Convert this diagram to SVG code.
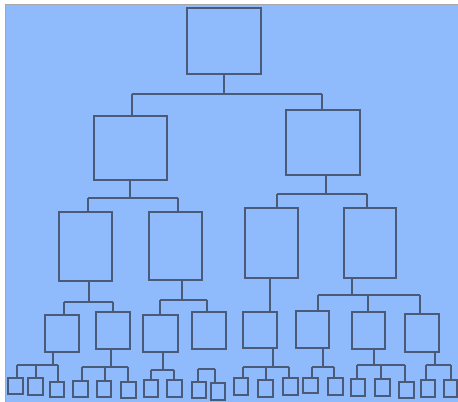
<svg xmlns="http://www.w3.org/2000/svg" width="458" height="402" viewBox="0 0 458 402">
<style>
.n{fill:none;stroke:#4a5a78;stroke-width:2}
.c{fill:none;stroke:#4a5a78;stroke-width:2}
</style>
<rect x="0" y="0" width="458" height="402" fill="#ffffff"/>
<rect x="5.5" y="4.5" width="453" height="398" fill="#8fbbfc" stroke="#a8a8a8" stroke-width="1"/>
<g id="connectors">
<path class="c" d="M224,74V94M132,94H322M132,94V116M322,94V110"/>
<path class="c" d="M130,180V198M88,198H178M88,198V212M178,198V212"/>
<path class="c" d="M326,175V194M277,194H367M277,194V208M367,194V208"/>
<path class="c" d="M89,281V302M64,302H113M64,302V315M113,302V312"/>
<path class="c" d="M182,280V300M160,300H207M160,300V315M207,300V312"/>
<path class="c" d="M270,278V312"/>
<path class="c" d="M352,278V295M318,295H420M318,295V311M368,295V312M420,295V314"/>
<path class="c" d="M53,352V365M17,365H58M17,365V378M36,365V378M58,365V382"/>
<path class="c" d="M111,349V367M82,367H128M82,367V381M105,367V381M128,367V382"/>
<path class="c" d="M163,352V370M151,370H174M151,370V380M174,370V380"/>
<path class="c" d="M198,369H215M198,369V382M215,369V383"/>
<path class="c" d="M273,348V367M243,367H289M243,367V378M266,367V380M289,367V378"/>
<path class="c" d="M323,348V367M312,367H334M312,367V378M334,367V378"/>
<path class="c" d="M374,349V365M357,365H405M357,365V379M381,365V379M405,365V382"/>
<path class="c" d="M435,352V365M426,365H451M426,365V380M451,365V380"/>
</g>
<g id="root"><rect class="n" x="187" y="8" width="74" height="66"/></g>
<g id="l2a"><rect class="n" x="94" y="116" width="73" height="64"/></g>
<g id="l2b"><rect class="n" x="286" y="110" width="74" height="65"/></g>
<g id="l3a"><rect class="n" x="59" y="212" width="53" height="69"/></g>
<g id="l3b"><rect class="n" x="149" y="212" width="53" height="68"/></g>
<g id="l3c"><rect class="n" x="245" y="208" width="53" height="70"/></g>
<g id="l3d"><rect class="n" x="344" y="208" width="52" height="70"/></g>
<g id="l4a"><rect class="n" x="45" y="315" width="34" height="37"/></g>
<g id="l4b"><rect class="n" x="96" y="312" width="34" height="37"/></g>
<g id="l4c"><rect class="n" x="143" y="315" width="35" height="37"/></g>
<g id="l4d"><rect class="n" x="192" y="312" width="34" height="37"/></g>
<g id="l4e"><rect class="n" x="243" y="312" width="34" height="36"/></g>
<g id="l4f"><rect class="n" x="296" y="311" width="33" height="37"/></g>
<g id="l4g"><rect class="n" x="352" y="312" width="33" height="37"/></g>
<g id="l4h"><rect class="n" x="405" y="314" width="34" height="38"/></g>
<g id="s1"><rect class="n" x="8" y="378" width="15" height="16"/></g>
<g id="s2"><rect class="n" x="28" y="378" width="15" height="17"/></g>
<g id="s3"><rect class="n" x="50" y="382" width="14" height="15"/></g>
<g id="s4"><rect class="n" x="73" y="381" width="15" height="16"/></g>
<g id="s5"><rect class="n" x="97" y="381" width="14" height="16"/></g>
<g id="s6"><rect class="n" x="121" y="382" width="15" height="16"/></g>
<g id="s7"><rect class="n" x="144" y="380" width="14" height="17"/></g>
<g id="s8"><rect class="n" x="167" y="380" width="15" height="17"/></g>
<g id="s9"><rect class="n" x="192" y="382" width="14" height="16"/></g>
<g id="s10"><rect class="n" x="211" y="383" width="14" height="17"/></g>
<g id="s11"><rect class="n" x="234" y="378" width="14" height="17"/></g>
<g id="s12"><rect class="n" x="258" y="380" width="15" height="17"/></g>
<g id="s13"><rect class="n" x="283" y="378" width="15" height="17"/></g>
<g id="s14"><rect class="n" x="303" y="378" width="15" height="15"/></g>
<g id="s15"><rect class="n" x="328" y="378" width="15" height="17"/></g>
<g id="s16"><rect class="n" x="351" y="379" width="14" height="17"/></g>
<g id="s17"><rect class="n" x="375" y="379" width="15" height="17"/></g>
<g id="s18"><rect class="n" x="399" y="382" width="15" height="16"/></g>
<g id="s19"><rect class="n" x="421" y="380" width="14" height="17"/></g>
<g id="s20"><rect class="n" x="444" y="380" width="13" height="17"/></g>
</svg>
